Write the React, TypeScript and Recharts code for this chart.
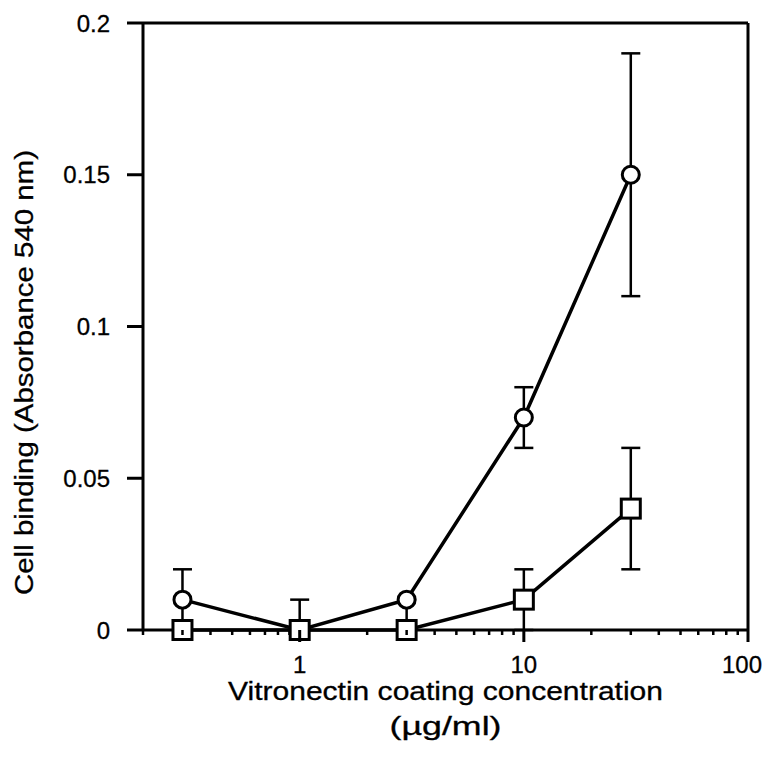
import React from 'react';
import { LineChart, Line, XAxis, YAxis, ErrorBar, ReferenceLine } from 'recharts';

const concentrations = [0.3, 1, 3, 10, 30];
const circleValues = [0.01, 0, 0.01, 0.07, 0.15];
const circleErrLow = [0.01, 0, 0.01, 0.01, 0.04];
const circleErrHigh = [0.01, 0.01, 0, 0.01, 0.04];
const squareValues = [0, 0, 0, 0.01, 0.04];
const squareErrLow = [0, 0, 0, 0.01, 0.02];
const squareErrHigh = [0, 0, 0, 0.01, 0.02];

const xMajorTicks = [1, 10, 100];
const xMinorTicks = [0.2, 0.3, 0.4, 0.5, 0.6, 0.7, 0.8, 0.9, 2, 3, 4, 5, 6, 7, 8, 9, 20, 30, 40, 50, 60, 70, 80, 90];
const yTicks = [0, 0.05, 0.1, 0.15, 0.2];

const xLabel1 = 'Vitronectin coating concentration';
const xLabel2 = '(µg/ml)';
const yLabel = 'Cell binding (Absorbance 540 nm)';

const FONT = '"Liberation Sans", Arial, Helvetica, sans-serif';
const TEXT_STROKE = 0.3;

const data = concentrations.map((c, i) => ({
  x: c,
  circle: circleValues[i],
  circleErr: [circleErrLow[i], circleErrHigh[i]],
  square: squareValues[i],
  squareErr: [squareErrLow[i], squareErrHigh[i]],
}));

const allXTicks = [...xMinorTicks, ...xMajorTicks].sort((a, b) => a - b);

const XTick = (props: any) => {
  const { x, y, payload } = props;
  const v = payload.value;
  const major = xMajorTicks.includes(v);
  const last = v === xMajorTicks[xMajorTicks.length - 1];
  return (
    <g>
      <line x1={x} x2={x} y1={y} y2={y + (major ? 12 : 5)} stroke="#000" strokeWidth={major ? 3 : 2.5} />
      {major && (
        <text
          x={last ? x + 14 : x}
          y={y + 43}
          textAnchor={last ? 'end' : 'middle'}
          fontSize={24}
          fontFamily={FONT}
          fill="#000"
          stroke="#000"
          strokeWidth={TEXT_STROKE}
        >
          {v}
        </text>
      )}
    </g>
  );
};

const YTick = (props: any) => {
  const { x, y, payload } = props;
  return (
    <text
      x={x}
      y={y + 8.5}
      textAnchor="end"
      fontSize={24}
      fontFamily={FONT}
      fill="#000"
      stroke="#000"
      strokeWidth={TEXT_STROKE}
    >
      {payload.value}
    </text>
  );
};

const YLabelContent = (props: any) => {
  const { viewBox } = props;
  const cx = viewBox.x + 33;
  const cy = viewBox.y + viewBox.height / 2 + 46;
  return (
    <text
      x={cx}
      y={cy}
      transform={`rotate(-90 ${cx} ${cy})`}
      textAnchor="middle"
      fontSize={26}
      fontFamily={FONT}
      fill="#000"
      stroke="#000"
      strokeWidth={TEXT_STROKE}
      textLength={445}
      lengthAdjust="spacingAndGlyphs"
    >
      {yLabel}
    </text>
  );
};

const XLabelContent = (props: any) => {
  const { viewBox } = props;
  const cx = viewBox.x + viewBox.width / 2;
  return (
    <g>
      <text
        x={cx}
        y={viewBox.y + 70}
        textAnchor="middle"
        fontSize={26}
        fontFamily={FONT}
        fill="#000"
        stroke="#000"
        strokeWidth={TEXT_STROKE}
        textLength={435}
        lengthAdjust="spacingAndGlyphs"
      >
        {xLabel1}
      </text>
      <text
        x={cx}
        y={viewBox.y + 105}
        textAnchor="middle"
        fontSize={26}
        fontFamily={FONT}
        fill="#000"
        stroke="#000"
        strokeWidth={TEXT_STROKE}
        textLength={112}
        lengthAdjust="spacingAndGlyphs"
      >
        {xLabel2}
      </text>
    </g>
  );
};

const SquareDot = (props: any) => {
  const { cx, cy, index } = props;
  if (cx == null || cy == null) return null;
  return <rect key={`sq-${index}`} x={cx - 9.5} y={cy - 9.5} width={19} height={19} fill="#fff" stroke="#000" strokeWidth={3} />;
};

const CircleDot = (props: any) => {
  const { cx, cy, index } = props;
  if (cx == null || cy == null) return null;
  return <circle key={`ci-${index}`} cx={cx} cy={cy} r={8.5} fill="#fff" stroke="#000" strokeWidth={3} />;
};

export default function App() {
  return (
    <div style={{ position: 'absolute', left: 0, top: 0, width: 763, height: 770, background: '#fff' }}>
      <LineChart width={763} height={770} data={data} margin={{ top: 23, right: 15, left: 0, bottom: 0 }}>
        <XAxis
          dataKey="x"
          type="number"
          scale="log"
          domain={[0.2, 100]}
          ticks={allXTicks}
          interval={0}
          tick={<XTick />}
          tickLine={false}
          tickSize={0}
          tickMargin={0}
          height={140}
          axisLine={{ stroke: '#000', strokeWidth: 3 }}
          label={<XLabelContent />}
        />
        <YAxis
          type="number"
          domain={[0, 0.2]}
          ticks={yTicks}
          interval={0}
          width={143}
          tickSize={16}
          tickMargin={17}
          tickLine={{ stroke: '#000', strokeWidth: 3 }}
          axisLine={{ stroke: '#000', strokeWidth: 3 }}
          tick={<YTick />}
          label={<YLabelContent />}
        />
        <ReferenceLine y={0.2} stroke="#000" strokeWidth={3} />
        <ReferenceLine x={100} stroke="#000" strokeWidth={3} />
        <Line
          dataKey="circle"
          stroke="#000"
          strokeWidth={3.5}
          dot={<CircleDot />}
          activeDot={false}
          isAnimationActive={false}
        >
          <ErrorBar dataKey="circleErr" direction="y" width={9.5} stroke="#000" strokeWidth={2.5} isAnimationActive={false} />
        </Line>
        <Line
          dataKey="square"
          stroke="#000"
          strokeWidth={3.5}
          dot={<SquareDot />}
          activeDot={false}
          isAnimationActive={false}
        >
          <ErrorBar dataKey="squareErr" direction="y" width={9.5} stroke="#000" strokeWidth={2.5} isAnimationActive={false} />
        </Line>
      </LineChart>
    </div>
  );
}
